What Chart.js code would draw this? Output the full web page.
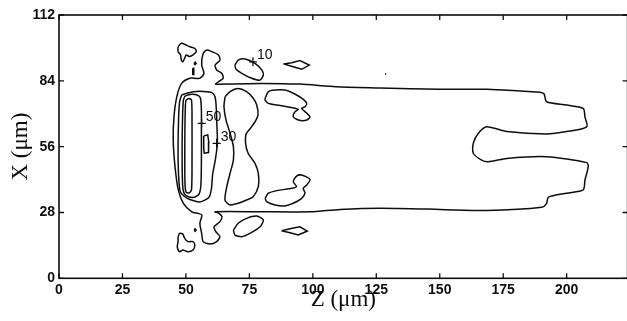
<!DOCTYPE html>
<html>
<head>
<meta charset="utf-8">
<script src="https://cdn.jsdelivr.net/npm/chart.js@4/dist/chart.umd.min.js"></script>
<style>
  html, body { margin: 0; padding: 0; background: #fff; overflow: hidden; }
  #wrap { width: 627px; height: 321px; overflow: hidden; }
  canvas { display: block; }
</style>
</head>
<body>
<div id="wrap"><canvas id="c" width="640" height="321"></canvas></div>
<script>
// Axis ticks (µm)
const zTicks = [0, 25, 50, 75, 100, 125, 150, 175, 200];
const xTicks = [0, 28, 56, 84, 112];
const zRange = [0, 224];
const xRange = [0, 112];

// Contour paths, each point is [Z, X] in µm
// Outermost level: left cap, both side lobes and the long tail
const outerContour = [
  [61.5,82.5],[79.2,82.9],[94.9,82.6],[109.1,81.5],[126.5,81.0],[150.1,80.4],[168.5,80.4],
  [189.5,79.1],[191.1,78.4],[192.1,75.1],[200.0,73.7],[206.5,72.3],[207.2,68.7],[207.9,64.4],
  [200.0,62.4],[192.1,61.4],[176.4,62.4],[168.5,64.5],[165.2,61.7],[163.2,57.4],[163.2,53.2],
  [166.5,50.3],[169.1,49.6],[176.4,51.0],[192.1,51.7],[207.9,49.2],[208.5,47.5],[207.2,41.8],
  [206.5,37.6],[200.0,36.2],[192.8,34.5],[192.1,31.9],[190.2,30.2],[168.5,28.8],[150.1,29.3],
  [126.5,29.8],[110.7,29.3],[98.9,28.3],[79.2,28.3],[61.5,28.3],
  [63.0,27.6],[64.2,26.2],[63.4,24.1],[61.1,21.9],[61.8,19.8],[63.4,17.7],[62.1,15.6],
  [59.5,14.6],[56.8,15.6],[56.2,19.1],[55.5,23.4],[56.3,26.9],[54.9,27.6],
  [52.3,28.3],[49.0,31.9],[47.0,37.6],[45.7,47.5],[45.0,58.8],[45.3,68.7],[46.4,77.2],
  [48.3,82.9],[51.6,85.1],[54.4,85.0],[55.5,85.1],
  [57.1,87.2],[56.2,90.7],[56.8,95.7],[58.3,97.1],[60.2,96.4],[62.8,95.0],[63.4,92.8],
  [61.5,90.7],[62.1,88.6],[64.1,87.2],[64.7,85.1],[62.8,83.6]
];
const ring30 = [
  [48.3,78.0],[50.3,78.7],[52.9,79.4],[56.8,79.5],[60.2,79.0],[61.5,77.1],[62.0,71.6],
  [62.2,65.2],[62.4,57.4],[61.6,50.5],[60.5,44.0],[60.1,38.5],[59.1,34.5],[55.5,32.5],
  [51.6,33.5],[49.2,35.0],[47.7,37.1],[47.1,43.9],[46.9,54.6],[47.1,67.3],[47.5,75.0]
];
const ring50 = [
  [49.6,77.5],[51.6,78.2],[54.4,78.0],[55.7,76.7],[56.1,71.6],[56.1,63.1],[56.1,50.3],
  [55.9,39.7],[55.2,35.9],[53.6,34.6],[51.2,34.6],[49.4,35.9],[48.7,39.7],[48.5,54.6],
  [48.7,69.5],[49.0,75.8]
];
const ringCore = [
  [50.0,75.8],[51.2,76.5],[52.2,75.8],[52.4,67.3],[52.4,50.3],[52.2,37.6],[51.2,36.3],
  [50.0,36.7],[49.6,41.8],[49.6,63.1],[49.8,73.7]
];
const coreBump = [[57.0,60.5],[58.6,61.0],[59.0,58.0],[58.9,53.5],[57.2,53.2],[57.0,56.0]];
const hourglass = [
  [65.4,77.2],[67.4,79.4],[70.5,80.7],[73.9,79.4],[76.5,76.6],[77.9,73.7],[78.4,69.5],
  [77.2,66.5],[75.2,63.5],[73.7,61.4],[73.5,57.4],[74.5,53.2],[77.2,48.9],[78.5,44.7],
  [78.5,39.0],[76.5,34.7],[73.9,33.3],[70.6,31.9],[67.4,31.2],[65.4,33.3],[66.1,39.0],
  [67.4,44.7],[68.7,50.3],[68.7,56.0],[67.4,61.7],[65.8,67.3],[65.0,73.0]
];
const squiggleTop = [
  [46.9,98.5],[48.2,100.0],[50.1,99.2],[51.5,98.5],[53.5,97.8],[54.1,96.4],[52.8,95.0],
  [51.5,94.3],[50.1,95.0],[49.5,93.6],[48.8,92.1],[48.2,92.8],[47.9,95.0],[46.9,96.4]
];
const squiggleBottom = [
  [46.9,17.7],[47.5,19.1],[48.8,18.8],[49.5,17.0],[50.8,15.6],[52.8,15.6],[53.5,14.2],
  [52.8,12.0],[50.8,11.3],[48.8,12.0],[47.5,11.3],[46.6,13.4],[46.9,15.6]
];
const dotTop = [[53.2,91.4],[53.6,91.9],[54.0,91.4],[53.6,90.9]];
const dashTop = [[52.7,89.4],[53.1,89.4],[53.1,86.7],[52.7,86.7]];
const dotBottom = [[53.2,20.5],[53.6,21.0],[54.0,20.5],[53.6,20.0]];
const ovalTop = [
  [69.3,90.7],[70.6,92.8],[73.3,93.3],[77.2,91.4],[79.9,88.6],[80.5,86.5],[79.2,84.3],
  [75.9,85.1],[72.0,87.2],[69.7,89.0]
];
const ovalBottom = [
  [68.7,20.5],[70.6,23.4],[73.9,25.5],[77.9,26.5],[80.5,24.8],[79.2,21.9],[75.2,19.1],
  [72.0,17.7],[69.3,18.4]
];
const diamondTop = [[88.4,91.2],[91.7,91.7],[94.9,92.6],[98.6,90.7],[95.6,88.9],[92.3,90.0]];
const diamondBottom = [[87.7,20.2],[91.0,21.1],[94.9,21.9],[97.8,20.1],[94.3,18.4],[91.0,19.4]];
const kidneyTop = [
  [81.2,76.6],[82.5,79.4],[85.1,80.1],[89.0,80.1],[92.3,78.7],[95.6,76.6],[97.6,74.4],
  [96.9,73.0],[95.6,72.3],[97.6,70.2],[98.9,68.7],[97.6,67.3],[94.3,67.3],[92.3,68.7],
  [93.0,70.9],[94.3,71.9],[93.0,72.3],[89.7,73.0],[85.8,73.7],[82.5,74.4],[81.2,75.8]
];
const kidneyBottom = [
  [81.2,34.0],[82.5,36.2],[85.8,37.3],[91.7,38.3],[93.6,39.0],[92.3,41.1],[93.6,43.5],
  [95.6,43.9],[98.9,42.1],[97.6,39.7],[96.2,38.3],[96.9,36.2],[95.6,34.0],[92.3,31.9],
  [89.0,30.8],[85.1,31.2],[81.8,32.6]
];
const speck = [[128.4,86.9],[128.9,86.9]];

// Contour level labels and their anchor crosses
const labelText = ['10', '50', '30'];
const labelZ = [76.4, 56.2, 62.1];
const labelX = [92.1, 65.9, 57.4];

const closedPaths = [outerContour, ring30, ring50, ringCore, coreBump, hourglass,
  squiggleTop, squiggleBottom, dotTop, dashTop, dotBottom, ovalTop, ovalBottom,
  diamondTop, diamondBottom, kidneyTop, kidneyBottom];

const INK = '#0d0d0d';

const datasets = closedPaths.map(p => ({
  data: p.concat([p[0]]).map(([z, x]) => ({ x: z, y: x })),
  showLine: true,
  borderColor: INK,
  borderWidth: 1.5,
  pointRadius: 0,
  tension: p.length > 8 ? 0.25 : 0,
  fill: false
}));
datasets.push({
  data: speck.map(([z, x]) => ({ x: z, y: x })),
  showLine: true, borderColor: INK, borderWidth: 1.6, pointRadius: 0
});

// Frame, inward tick marks and contour labels
const framePlugin = {
  id: 'frame',
  afterDatasetsDraw(chart) {
    const { ctx, chartArea: a, scales } = chart;
    const sx = scales.x, sy = scales.y;
    ctx.save();
    ctx.strokeStyle = INK;
    ctx.lineWidth = 1.6;
    ctx.strokeRect(a.left, a.top, a.right - a.left, a.bottom - a.top);
    ctx.lineWidth = 1.3;
    const tl = 5;
    ctx.beginPath();
    zTicks.forEach(v => {
      const px = sx.getPixelForValue(v);
      ctx.moveTo(px, a.bottom); ctx.lineTo(px, a.bottom - tl);
      ctx.moveTo(px, a.top); ctx.lineTo(px, a.top + tl);
    });
    xTicks.forEach(v => {
      const py = sy.getPixelForValue(v);
      ctx.moveTo(a.left, py); ctx.lineTo(a.left + tl, py);
      ctx.moveTo(a.right, py); ctx.lineTo(a.right - tl, py);
    });
    ctx.stroke();

    ctx.lineWidth = 1.2;
    ctx.fillStyle = INK;
    ctx.font = '14px "Liberation Sans", Arial, sans-serif';
    ctx.textBaseline = 'middle';
    ctx.textAlign = 'left';
    labelText.forEach((t, i) => {
      const px = sx.getPixelForValue(labelZ[i]);
      const py = sy.getPixelForValue(labelX[i]);
      ctx.beginPath();
      ctx.moveTo(px - 4, py); ctx.lineTo(px + 4, py);
      ctx.moveTo(px, py - 4.5); ctx.lineTo(px, py + 4.5);
      ctx.stroke();
      ctx.fillText(t, px + 4, py - 6.5);
    });
    ctx.restore();
  }
};

const tickFont = { family: '"Liberation Sans", Arial, sans-serif', size: 14, weight: 'bold' };
const titleFont = { family: '"Liberation Serif", "Times New Roman", serif', size: 23 };

new Chart(document.getElementById('c'), {
  type: 'scatter',
  data: { datasets },
  options: {
    responsive: false,
    animation: false,
    events: [],
    layout: { padding: { top: 15, right: 12.4, left: 0, bottom: 0 } },
    plugins: { legend: { display: false }, tooltip: { enabled: false } },
    scales: {
      x: {
        type: 'linear',
        min: zRange[0], max: zRange[1],
        grid: { display: false, drawTicks: false },
        border: { display: false },
        afterBuildTicks: s => { s.ticks = zTicks.map(v => ({ value: v })); },
        afterFit: s => { s.height = 42.7; },
        ticks: { color: INK, font: tickFont, padding: 3, maxRotation: 0, autoSkip: false },
        title: { display: true, text: 'Z (\u03bcm)', color: INK, font: titleFont, padding: { top: 0, bottom: 7 } }
      },
      y: {
        type: 'linear',
        min: xRange[0], max: xRange[1],
        grid: { display: false, drawTicks: false },
        border: { display: false },
        afterBuildTicks: s => { s.ticks = xTicks.map(v => ({ value: v })); },
        afterFit: s => { s.width = 59; },
        ticks: { color: INK, font: tickFont, padding: 4, autoSkip: false },
        title: { display: true, text: 'X (\u03bcm)', color: INK, font: titleFont, padding: { top: 7, bottom: 0 } }
      }
    }
  },
  plugins: [framePlugin]
});
</script>
</body>
</html>
